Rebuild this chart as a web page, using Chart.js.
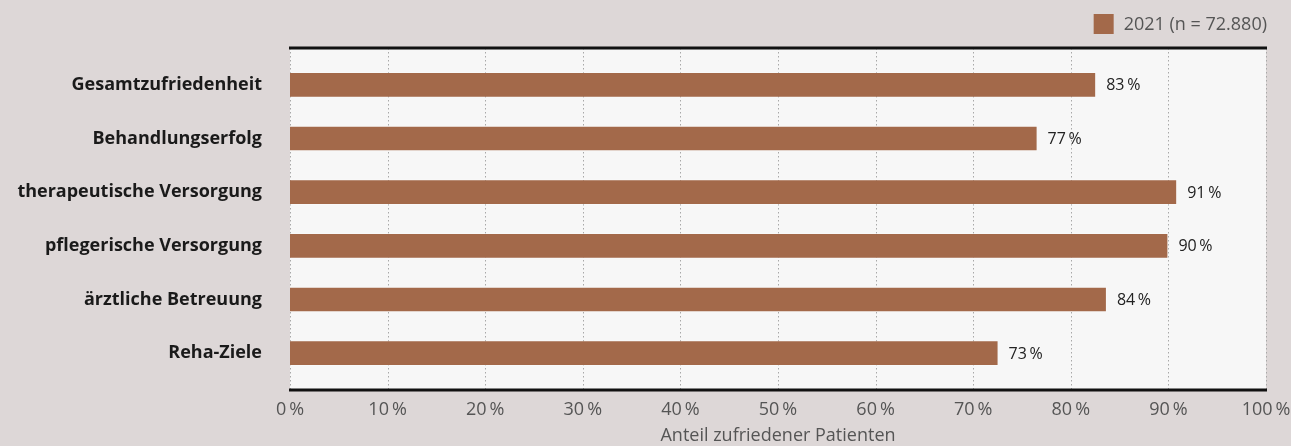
<!DOCTYPE html>
<html lang="de">
<head>
<meta charset="UTF-8">
<title>Patientenzufriedenheit 2021</title>
<script src="https://cdn.jsdelivr.net/npm/chart.js"></script>
<style>
  html, body { margin: 0; padding: 0; background: #ddd7d7; }
  #wrap { width: 1291px; height: 446px; position: relative; }
</style>
</head>
<body>
<div id="wrap"><canvas id="chart" width="1291" height="446"></canvas></div>
<script>
// data
var categories = ['Gesamtzufriedenheit', 'Behandlungserfolg', 'therapeutische Versorgung',
                  'pflegerische Versorgung', 'ärztliche Betreuung', 'Reha-Ziele'];
var values2021 = [82.6, 76.6, 90.9, 90.0, 83.7, 72.6];
var seriesLabel = '2021 (n = 72.880)';
var xTicks = [0, 10, 20, 30, 40, 50, 60, 70, 80, 90, 100];

var barColor = '#a3694a';
var EXT = 10; // plot frame sticks out a bit above/below the bars

// plot background, dotted grid, thick top/bottom rules and the legend
var framePlugin = {
    id: 'frame',
    beforeDatasetsDraw: function(chart) {
        var a = chart.chartArea, ctx = chart.ctx, xs = chart.scales.x;
        ctx.save();
        ctx.fillStyle = '#f7f7f7';
        ctx.fillRect(a.left, a.top - EXT, a.right - a.left, a.bottom - a.top + 2 * EXT);
        ctx.strokeStyle = '#a8a8a8';
        ctx.lineWidth = 1;
        ctx.setLineDash([1.5, 2.5]);
        ctx.beginPath();
        xTicks.forEach(function(v) {
            var x = Math.round(xs.getPixelForValue(v)) + 0.5;
            ctx.moveTo(x, a.top - EXT);
            ctx.lineTo(x, a.bottom + EXT);
        });
        ctx.stroke();
        ctx.restore();
    },
    afterDraw: function(chart) {
        var a = chart.chartArea, ctx = chart.ctx;
        ctx.save();
        ctx.strokeStyle = '#111';
        ctx.lineWidth = 3;
        ctx.beginPath();
        ctx.moveTo(a.left - 1, a.top - EXT); ctx.lineTo(a.right + 1, a.top - EXT);
        ctx.moveTo(a.left - 1, a.bottom + EXT); ctx.lineTo(a.right + 1, a.bottom + EXT);
        ctx.stroke();

        // legend, right-aligned with the plot
        ctx.font = '18px "Open Sans"';
        var tw = ctx.measureText(seriesLabel).width;
        var textX = a.right + 1 - tw;
        var boxX = textX - 10 - 20;
        ctx.fillStyle = barColor;
        ctx.fillRect(boxX, 14, 20, 20);
        ctx.fillStyle = '#555';
        ctx.textBaseline = 'middle';
        ctx.fillText(seriesLabel, textX, 25);
        ctx.restore();
    }
};

// value labels at bar ends
var valueLabels = {
    id: 'valueLabels',
    afterDatasetsDraw: function(chart) {
        var ctx = chart.ctx;
        var meta = chart.getDatasetMeta(0);
        ctx.save();
        ctx.font = '16px "Open Sans"';
        ctx.fillStyle = '#222';
        ctx.textBaseline = 'middle';
        meta.data.forEach(function(bar, i) {
            ctx.fillText(Math.round(values2021[i]) + '\u2009%', bar.x + 10, bar.y + 1);
        });
        ctx.restore();
    }
};

new Chart(document.getElementById('chart'), {
    type: 'bar',
    data: {
        labels: categories,
        datasets: [{
            label: seriesLabel,
            data: values2021,
            backgroundColor: barColor,
            borderColor: 'rgba(255,255,255,0.3)',
            borderWidth: 1,
            categoryPercentage: 0.9,
            barPercentage: 0.53
        }]
    },
    options: {
        indexAxis: 'y',
        responsive: false,
        animation: false,
        layout: { padding: { left: 0, right: 25, top: 58, bottom: 1 } },
        scales: {
            x: {
                min: 0, max: 100,
                afterBuildTicks: function(scale) {
                    scale.ticks = xTicks.map(function(v) { return { value: v }; });
                },
                afterFit: function(scale) {
                    scale.height = 65;
                    scale.paddingLeft = 0;
                    scale.paddingRight = 0;
                },
                grid: { display: false, drawTicks: false },
                border: { display: false },
                ticks: {
                    padding: 19,
                    color: '#555',
                    font: { family: 'Open Sans', size: 18, lineHeight: 1.2 },
                    callback: function(v) { return v + '\u2009%'; }
                },
                title: {
                    display: true,
                    text: 'Anteil zufriedener Patienten',
                    color: '#555',
                    font: { family: 'Open Sans', size: 18, lineHeight: 1 },
                    padding: { top: 6, bottom: 0 }
                }
            },
            y: {
                afterFit: function(scale) { scale.width = 290; },
                grid: { display: false },
                border: { display: false },
                ticks: {
                    padding: 20,
                    color: '#1a1a1a',
                    font: { family: 'Open Sans', size: 18, weight: 'bold' }
                }
            }
        },
        plugins: {
            legend: { display: false },
            tooltip: { enabled: false }
        }
    },
    plugins: [framePlugin, valueLabels]
});
</script>
</body>
</html>
